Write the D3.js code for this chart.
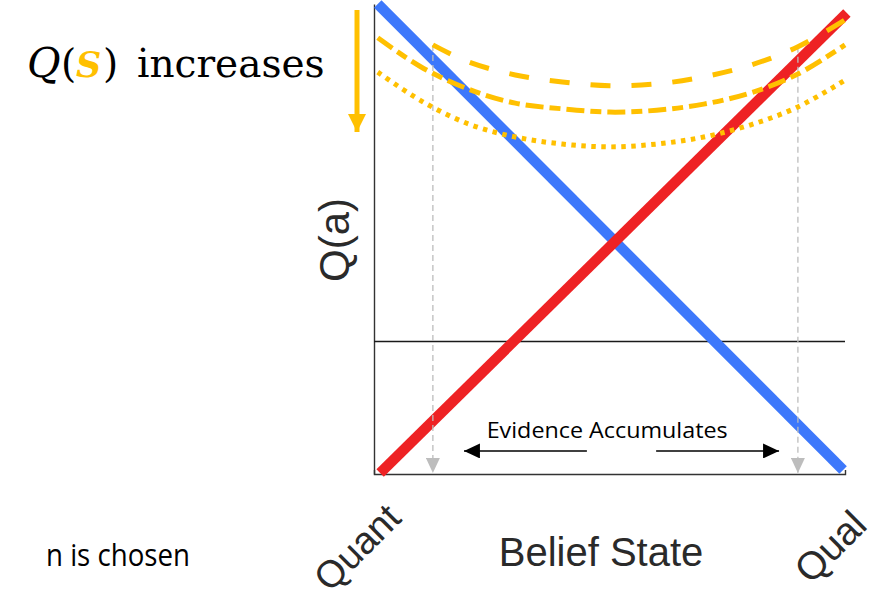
<!DOCTYPE html>
<html><head><meta charset="utf-8">
<script src="https://cdn.jsdelivr.net/npm/d3@7"></script>
<style>body{margin:0;background:#fff}svg{display:block}</style>
</head><body>
<svg id="chart" width="876" height="601"></svg>
<script>
// ---- data (belief state 0 = Quant, 1 = Qual; Q value 0..1) ----
const quantBelief = [0.008, 0.996];
const quantQ      = [1.000, 0.0085];
const qualBelief  = [0.013, 1.004];
const qualQ       = [0.002, 0.981];

const longDashBelief = [0.125, 0.2, 0.3, 0.4, 0.5, 0.6, 0.7, 0.8, 0.9, 1.0];
const longDashQ      = [0.913, 0.877, 0.849, 0.834, 0.826, 0.830, 0.845, 0.870, 0.909, 0.966];
const midDashBelief  = [0.008, 0.1, 0.2, 0.3, 0.4, 0.5, 0.6, 0.7, 0.8, 0.9, 1.0];
const midDashQ       = [0.928, 0.866, 0.819, 0.789, 0.777, 0.770, 0.774, 0.787, 0.811, 0.851, 0.913];
const dotBelief      = [0.008, 0.1, 0.2, 0.3, 0.4, 0.5, 0.6, 0.7, 0.8, 0.9, 1.0];
const dotQ           = [0.855, 0.794, 0.745, 0.717, 0.702, 0.696, 0.702, 0.717, 0.743, 0.781, 0.838];

const thresholdQ = 0.283;
const markerBelief = [0.125, 0.900];
const markerTopQ   = [0.913, 0.909];
const evidenceLeft  = [0.452, 0.191];
const evidenceRight = [0.599, 0.860];
const evidenceQ = 0.049;
const evidenceLabel = "Evidence Accumulates";
const xLabel = "Belief State";
const yLabel = "Q(a)";
const xEndLabels = ["Quant", "Qual"];

// ---- setup ----
const svg = d3.select("#chart");
const x = d3.scaleLinear().domain([0, 1]).range([374, 845]);
const y = d3.scaleLinear().domain([0, 1]).range([474, 4]);
const YELLOW = "#FFC000";

const defs = svg.append("defs");
defs.append("marker").attr("id", "greyHead").attr("markerUnits", "userSpaceOnUse")
  .attr("viewBox", "0 0 15 14").attr("markerWidth", 15).attr("markerHeight", 14)
  .attr("refX", 15).attr("refY", 7).attr("orient", "auto")
  .append("path").attr("d", "M0,0L15,7L0,14Z").attr("fill", "#bdbdbd");
defs.append("marker").attr("id", "blackHead").attr("markerUnits", "userSpaceOnUse")
  .attr("viewBox", "0 0 16 15").attr("markerWidth", 16).attr("markerHeight", 15)
  .attr("refX", 16).attr("refY", 7.5).attr("orient", "auto")
  .append("path").attr("d", "M0,0L16,7.5L0,15Z").attr("fill", "#000");
defs.append("marker").attr("id", "yellowHead").attr("markerUnits", "userSpaceOnUse")
  .attr("viewBox", "0 0 18 18").attr("markerWidth", 18).attr("markerHeight", 18)
  .attr("refX", 18).attr("refY", 9).attr("orient", "auto")
  .append("path").attr("d", "M0,0L18,9L0,18Z").attr("fill", YELLOW);

// axes
svg.append("g").attr("transform", `translate(${x(0)},0)`)
  .call(d3.axisLeft(y).tickValues([]).tickSizeOuter(0))
  .call(g => g.select(".domain").attr("stroke", "#333").attr("stroke-width", 1.4));
svg.append("g").attr("transform", `translate(0,${y(0)})`)
  .call(d3.axisBottom(x).tickValues([]).tickSizeOuter(-4))
  .call(g => g.select(".domain").attr("stroke", "#333").attr("stroke-width", 1.4));

// threshold line
svg.append("line").attr("x1", x(0)).attr("x2", x(1))
  .attr("y1", Math.round(y(thresholdQ)) + 0.5).attr("y2", Math.round(y(thresholdQ)) + 0.5)
  .attr("stroke", "#1a1a1a").attr("stroke-width", 1.3);

// Q lines
const straight = d3.line().x(d => x(d[0])).y(d => y(d[1]));
svg.append("path").datum(d3.zip(quantBelief, quantQ)).attr("d", straight)
  .attr("stroke", "#3d78fb").attr("stroke-width", 10.5).attr("fill", "none");
svg.append("path").datum(d3.zip(qualBelief, qualQ)).attr("d", straight)
  .attr("stroke", "#ee2224").attr("stroke-width", 10.5).attr("fill", "none");

// grey dashed markers
markerBelief.forEach((b, i) => {
  svg.append("line").attr("x1", x(b)).attr("x2", x(b))
    .attr("y1", y(markerTopQ[i])).attr("y2", y(0) - 1)
    .attr("stroke", "#bdbdbd").attr("stroke-width", 1.3).attr("stroke-dasharray", "6,4")
    .attr("marker-end", "url(#greyHead)");
});

// yellow state-value curves
const smooth = d3.line().x(d => x(d[0])).y(d => y(d[1])).curve(d3.curveCatmullRom.alpha(0.5));
[[longDashBelief, longDashQ, "20,21"], [midDashBelief, midDashQ, "18,6,11,6"], [dotBelief, dotQ, "4.5,5.5"]]
  .forEach(([b, q, dash]) => {
    svg.append("path").datum(d3.zip(b, q)).attr("d", smooth)
      .attr("fill", "none").attr("stroke", YELLOW).attr("stroke-width", 5)
      .attr("stroke-dasharray", dash);
  });

// evidence arrows
[evidenceLeft, evidenceRight].forEach(([b0, b1]) => {
  svg.append("line").attr("x1", x(b0)).attr("x2", x(b1))
    .attr("y1", y(evidenceQ)).attr("y2", y(evidenceQ))
    .attr("stroke", "#000").attr("stroke-width", 1.5).attr("marker-end", "url(#blackHead)");
});
svg.append("text").attr("x", x(0.495)).attr("y", y(0.077))
  .attr("text-anchor", "middle").attr("font-family", "Open Sans, sans-serif")
  .attr("font-size", 22).attr("textLength", 241).attr("lengthAdjust", "spacingAndGlyphs")
  .text(evidenceLabel);

// yellow arrow at left
svg.append("line").attr("x1", 357).attr("x2", 357).attr("y1", 10).attr("y2", 132)
  .attr("stroke", YELLOW).attr("stroke-width", 5).attr("marker-end", "url(#yellowHead)");

// Q(S) increases
const qs = svg.append("text").attr("y", 77).attr("font-family", "DejaVu Serif, serif")
  .attr("font-size", 39).attr("fill", "#000");
qs.append("tspan").attr("x", 27).attr("font-style", "italic").attr("font-size", 41).text("Q");
qs.append("tspan").attr("x", 61).text("(");
qs.append("tspan").attr("x", 76).attr("font-style", "italic").attr("font-weight", "bold")
  .attr("font-size", 35).attr("fill", YELLOW).text("S");
qs.append("tspan").attr("x", 103).text(")");
qs.append("tspan").attr("x", 137).text("increases");

// axis labels
const sans = "Liberation Sans, Arial, Helvetica, sans-serif";
svg.append("text").attr("transform", "translate(349,240) rotate(-90)")
  .attr("text-anchor", "middle").attr("font-family", sans).attr("font-size", 42)
  .attr("fill", "#2a2a2a").text(yLabel);
svg.append("text").attr("x", 601).attr("y", 566).attr("text-anchor", "middle")
  .attr("font-family", sans).attr("font-size", 40).attr("fill", "#2a2a2a").text(xLabel);
svg.append("text").attr("transform", "translate(403,520) rotate(-45)")
  .attr("text-anchor", "end").attr("font-family", sans).attr("font-size", 38)
  .attr("fill", "#2a2a2a").text(xEndLabels[0]);
svg.append("text").attr("transform", "translate(869,527) rotate(-45)")
  .attr("text-anchor", "end").attr("font-family", sans).attr("font-size", 39)
  .attr("fill", "#2a2a2a").text(xEndLabels[1]);

// cut-off caption at left
svg.append("text").attr("x", 46).attr("y", 566).attr("font-family", "Open Sans, sans-serif")
  .attr("font-size", 31).attr("textLength", 144).attr("lengthAdjust", "spacingAndGlyphs")
  .attr("fill", "#000").text("n is chosen");
</script>
</body></html>
